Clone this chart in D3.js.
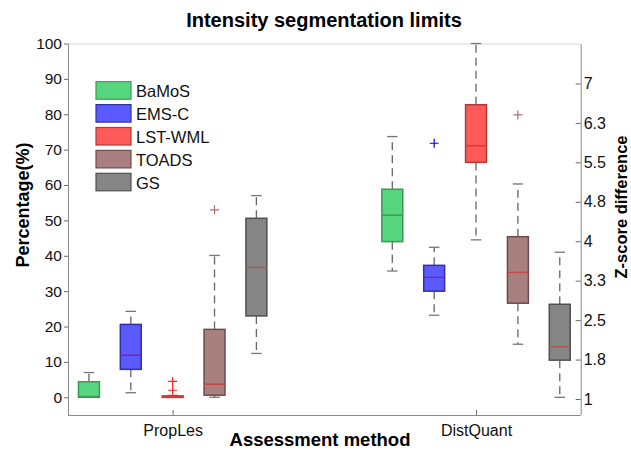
<!DOCTYPE html>
<html>
<head>
<meta charset="utf-8">
<script src="https://cdn.jsdelivr.net/npm/d3@7"></script>
<style>
  body { margin: 0; background: #fff; }
  text { font-family: "Liberation Sans", Arial, Helvetica, sans-serif; }
</style>
</head>
<body>
<script>
// chart data
const groups = ["PropLes", "DistQuant"];
const methods = ["BaMoS", "EMS-C", "LST-WML", "TOADS", "GS"];
const fills = ["#57d680", "#5a5aff", "#ff5a5a", "#a88080", "#858585"];
const strokes = ["#3a9a55", "#3030a8", "#b03a3a", "#6e4a4a", "#505050"];
const medianColors = ["#3c9a55", "#7a2aa0", "#f03030", "#c84848", "#a85a5a"];
const outColors = ["#2a9a4a", "#0000ff", "#ff2020", "#b07070", "#555"];

// per method: [PropLes, DistQuant]
const whiskerLow = [[0, 35.7], [1.3, 23.2], [0, 44.5], [0, 15.0], [12.4, 0]];
const q1 = [[0, 44.0], [7.9, 30.0], [0, 66.4], [0.6, 26.6], [23.0, 10.5]];
const median = [[0.2, 51.5], [11.9, 33.9], [0.1, 71.1], [3.7, 35.3], [36.7, 14.3]];
const q3 = [[4.4, 58.8], [20.6, 37.3], [0.4, 82.7], [19.2, 45.4], [50.6, 26.3]];
const whiskerHigh = [[7.0, 73.7], [24.3, 42.4], [0.55, 100], [40.1, 60.3], [57.0, 41.0]];
const outliers = [[[], []], [[], [71.8]], [[4.5, 2.0], []], [[53.0], [79.8]], [[], []]];

const leftTicks = [0, 10, 20, 30, 40, 50, 60, 70, 80, 90, 100];
const rightTicks = [1, 1.75, 2.5, 3.25, 4, 4.75, 5.5, 6.25, 7];
const rightTickLabels = ["1", "1.8", "2.5", "3.3", "4", "4.8", "5.5", "6.3", "7"];

const W = 631, H = 450;
const margin = {top: 43.5, right: 50.3, bottom: 35, left: 68};
const width = W - margin.left - margin.right,
    height = H - margin.top - margin.bottom;

const x = d3.scaleLinear().domain([0.655, 2.345]).range([0, width]);
const y = d3.scaleLinear().domain([-5, 100]).range([height, 0]);
const yR = d3.scaleLinear().domain([0.696, 7.76]).range([height, 0]);
const boxStep = 0.138, boxW = 0.069;

const svg = d3.select("body").append("svg")
    .attr("width", W)
    .attr("height", H);

const g = svg.append("g")
    .attr("transform", "translate(" + margin.left + "," + margin.top + ")");

// frame top line
g.append("line")
    .attr("x1", 0).attr("x2", width)
    .attr("y1", 0.5).attr("y2", 0.5)
    .attr("stroke", "#d8d8d8");

// left axis
const yAxis = g.append("g")
    .call(d3.axisLeft(y).tickValues(leftTicks).tickSize(4).tickPadding(2));
// bottom axis (inward ticks)
const xAxis = g.append("g")
    .attr("transform", "translate(0," + height + ")")
    .call(d3.axisBottom(x).tickValues([1, 2]).tickFormat((d, i) => groups[i]).tickSize(-5).tickPadding(10));
// right axis (inward ticks)
const yAxisR = g.append("g")
    .attr("transform", "translate(" + width + ",0)")
    .call(d3.axisRight(yR).tickValues(rightTicks).tickFormat((d, i) => rightTickLabels[i]).tickSize(-5).tickPadding(3));

[yAxis, xAxis, yAxisR].forEach(a => {
  a.select(".domain").attr("stroke", "#8a8a8a");
  a.selectAll(".tick line").attr("stroke", "#6a6a6a");
  a.selectAll(".tick text").attr("font-size", 15.5).attr("fill", "#111")
    .style("font-family", "'Liberation Sans', Arial, sans-serif");
});
yAxis.select(".domain").attr("d", "M0.5," + height + "V0.5");
yAxisR.select(".domain").attr("d", "M0.5," + height + "V0.5");
xAxis.select(".domain").attr("d", "M0,0.5H" + width);
xAxis.selectAll(".tick text").attr("font-size", 16);
yAxisR.selectAll(".tick text").attr("font-size", 16);

// boxes
const boxes = [];
methods.forEach((m, i) => {
  groups.forEach((gr, j) => {
    boxes.push({m: i, pos: (j + 1) + (i - 2) * boxStep,
      lo: whiskerLow[i][j], q1: q1[i][j], med: median[i][j],
      q3: q3[i][j], hi: whiskerHigh[i][j], out: outliers[i][j]});
  });
});

const bx = g.selectAll("g.box").data(boxes).enter().append("g").attr("class", "box");

// whiskers (dashed)
bx.append("line")
    .attr("x1", d => x(d.pos)).attr("x2", d => x(d.pos))
    .attr("y1", d => y(d.q3)).attr("y2", d => y(d.hi))
    .attr("stroke", "#666").attr("stroke-width", 1.3).attr("stroke-dasharray", "8,5");
bx.append("line")
    .attr("x1", d => x(d.pos)).attr("x2", d => x(d.pos))
    .attr("y1", d => y(d.q1)).attr("y2", d => y(d.lo))
    .attr("stroke", "#666").attr("stroke-width", 1.3).attr("stroke-dasharray", "8,5");
// caps
["hi", "lo"].forEach(k => {
  bx.append("line")
      .attr("x1", d => x(d.pos - boxW / 4)).attr("x2", d => x(d.pos + boxW / 4))
      .attr("y1", d => y(d[k])).attr("y2", d => y(d[k]))
      .attr("stroke", "#777").attr("stroke-width", 1.3);
});

bx.append("rect")
    .attr("x", d => x(d.pos - boxW / 2))
    .attr("width", d => x(d.pos + boxW / 2) - x(d.pos - boxW / 2))
    .attr("y", d => y(d.q3))
    .attr("height", d => Math.max(1.5, y(d.q1) - y(d.q3)))
    .attr("fill", d => fills[d.m])
    .attr("stroke", d => strokes[d.m])
    .attr("stroke-width", 1.5);

bx.append("line")
    .attr("x1", d => x(d.pos - boxW / 2)).attr("x2", d => x(d.pos + boxW / 2))
    .attr("y1", d => y(d.med)).attr("y2", d => y(d.med))
    .attr("stroke", d => medianColors[d.m]).attr("stroke-width", 1.5);

// outliers
const outPts = [];
boxes.forEach(b => b.out.forEach(v => outPts.push({m: b.m, pos: b.pos, v: v})));
g.selectAll("path.out").data(outPts).enter().append("path")
    .attr("class", "out")
    .attr("d", d => {
      const cx = x(d.pos), cy = y(d.v);
      return "M" + (cx - 4.5) + "," + cy + "H" + (cx + 4.5) + "M" + cx + "," + (cy - 4.5) + "V" + (cy + 4.5);
    })
    .attr("stroke", d => outColors[d.m]).attr("stroke-width", 1.2).attr("fill", "none");

// legend
const legend = g.append("g").attr("transform", "translate(28,38.2)");
methods.forEach((m, i) => {
  const row = legend.append("g").attr("transform", "translate(0," + i * 22.9 + ")");
  row.append("rect")
      .attr("width", 35).attr("height", 17.5)
      .attr("fill", fills[i]).attr("stroke", strokes[i]).attr("stroke-width", 1.2);
  row.append("text")
      .attr("x", 40).attr("y", 15.3)
      .attr("font-size", 16.5).attr("fill", "#111")
      .text(m);
});

// titles
svg.append("text")
    .attr("x", 324).attr("y", 27)
    .attr("text-anchor", "middle")
    .attr("font-size", 20).attr("font-weight", "bold")
    .text("Intensity segmentation limits");
svg.append("text")
    .attr("x", 320).attr("y", 446)
    .attr("text-anchor", "middle")
    .attr("font-size", 18.5).attr("font-weight", "bold")
    .text("Assessment method");
svg.append("text")
    .attr("transform", "translate(29,205) rotate(-90)")
    .attr("text-anchor", "middle")
    .attr("font-size", 18).attr("font-weight", "bold")
    .text("Percentage(%)");
svg.append("text")
    .attr("transform", "translate(627,207) rotate(-90)")
    .attr("text-anchor", "middle")
    .attr("font-size", 16.5).attr("font-weight", "bold")
    .text("Z-score difference");
</script>
</body>
</html>
